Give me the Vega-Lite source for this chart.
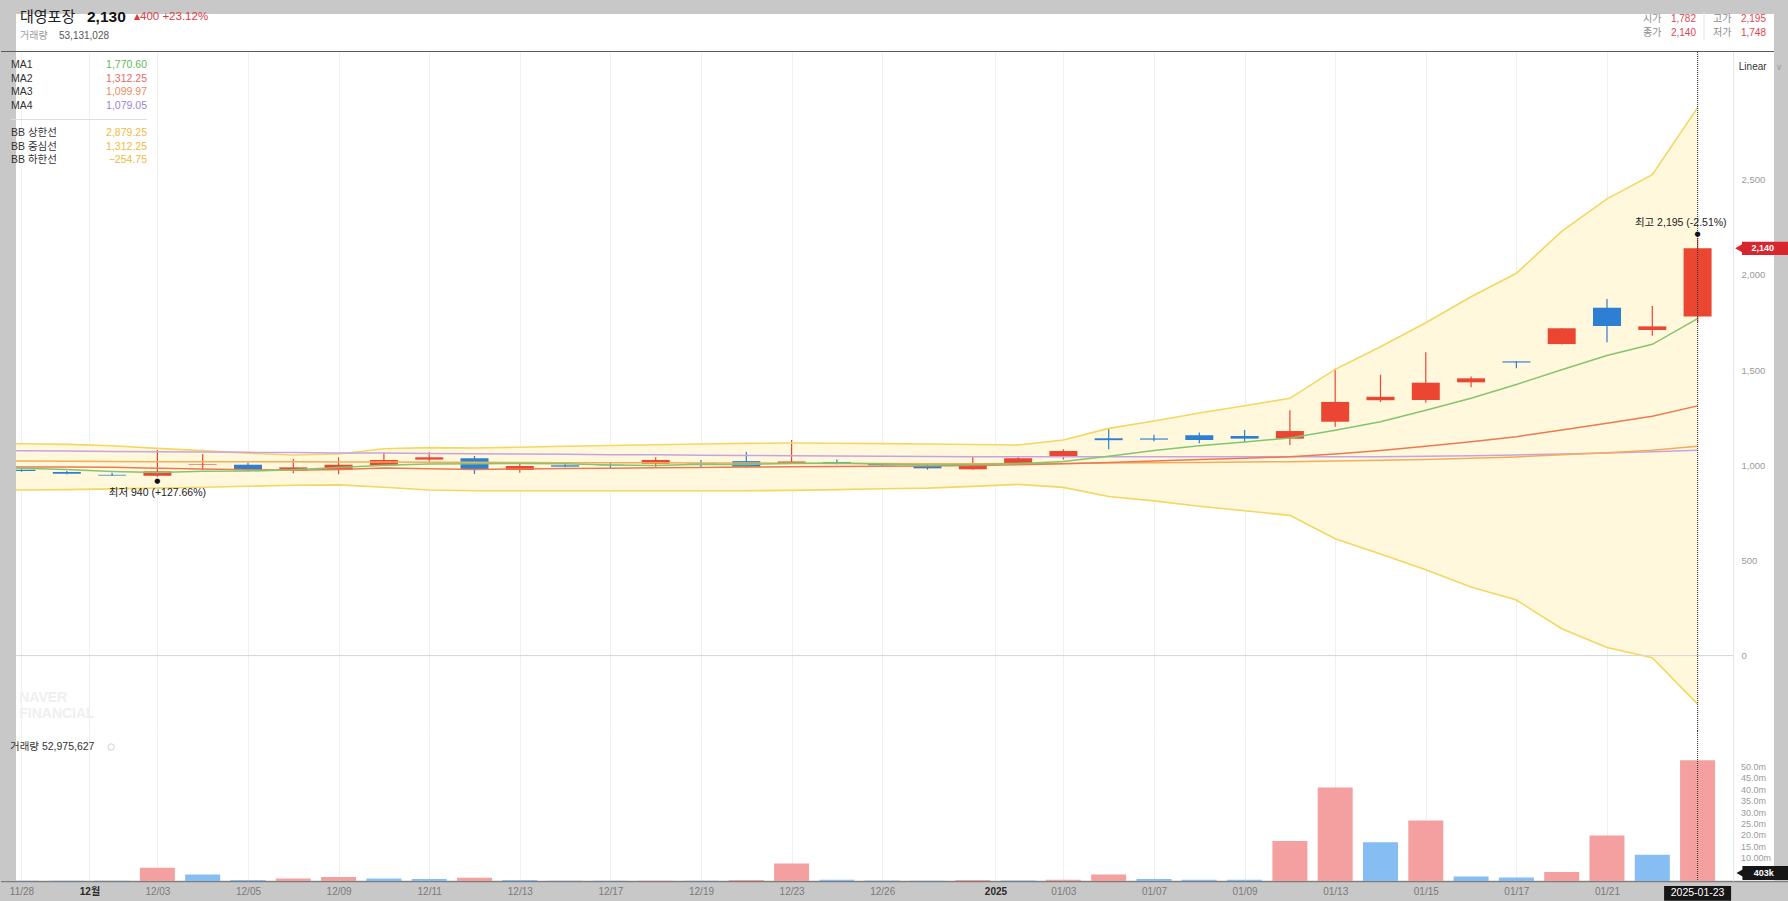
{
"$schema": "https://vega.github.io/schema/vega-lite/v6.json",
"background": "#c8c8c8",
"padding": 0,
"spacing": 0,
"bounds": "flush",
"config": {"view": {"stroke": null, "fill": "#ffffff"}, "font": "Liberation Sans, Noto Sans CJK KR", "axis": {"labelOverlap": false}},
"resolve": {"scale": {"x": "independent", "y": "independent", "color": "independent"}},
"datasets": {
"k": [
{"date":"11/28","i":0,"o":977,"h":979,"l":966,"c":970,"dir":"down","v":150000,"vdir":"down"},
{"date":"11/29","i":1,"o":965,"h":970,"l":953,"c":955,"dir":"down","v":150000,"vdir":"down"},
{"date":"12/02","i":2,"o":950,"h":961,"l":944,"c":946,"dir":"down","v":150000,"vdir":"down"},
{"date":"12/03","i":3,"o":945,"h":1080,"l":940,"c":968,"dir":"up","v":5800000,"vdir":"up"},
{"date":"12/04","i":4,"o":1003,"h":1059,"l":975,"c":1006,"dir":"up","v":2800000,"vdir":"down"},
{"date":"12/05","i":5,"o":1003,"h":1014,"l":972,"c":974,"dir":"down","v":400000,"vdir":"down"},
{"date":"12/06","i":6,"o":972,"h":1035,"l":958,"c":989,"dir":"up","v":1100000,"vdir":"up"},
{"date":"12/09","i":7,"o":975,"h":1042,"l":953,"c":1003,"dir":"up","v":1800000,"vdir":"up"},
{"date":"12/10","i":8,"o":1000,"h":1063,"l":998,"c":1028,"dir":"up","v":1100000,"vdir":"down"},
{"date":"12/11","i":9,"o":1030,"h":1070,"l":1019,"c":1042,"dir":"up","v":900000,"vdir":"down"},
{"date":"12/12","i":10,"o":1037,"h":1049,"l":954,"c":979,"dir":"down","v":1400000,"vdir":"up"},
{"date":"12/13","i":11,"o":975,"h":1010,"l":961,"c":996,"dir":"up","v":400000,"vdir":"down"},
{"date":"12/16","i":12,"o":1000,"h":1016,"l":990,"c":993,"dir":"down","v":120000,"vdir":"down"},
{"date":"12/17","i":13,"o":1003,"h":1012,"l":982,"c":1000,"dir":"down","v":100000,"vdir":"down"},
{"date":"12/18","i":14,"o":1008,"h":1042,"l":993,"c":1028,"dir":"up","v":150000,"vdir":"up"},
{"date":"12/19","i":15,"o":1012,"h":1028,"l":990,"c":1010,"dir":"down","v":120000,"vdir":"down"},
{"date":"12/20","i":16,"o":1022,"h":1070,"l":987,"c":992,"dir":"down","v":450000,"vdir":"up"},
{"date":"12/23","i":17,"o":1010,"h":1133,"l":1010,"c":1020,"dir":"up","v":7700000,"vdir":"up"},
{"date":"12/24","i":18,"o":1017,"h":1031,"l":1005,"c":1010,"dir":"down","v":600000,"vdir":"down"},
{"date":"12/26","i":19,"o":1008,"h":1010,"l":998,"c":1000,"dir":"down","v":200000,"vdir":"down"},
{"date":"12/27","i":20,"o":996,"h":1010,"l":977,"c":984,"dir":"down","v":150000,"vdir":"down"},
{"date":"12/30","i":21,"o":979,"h":1045,"l":977,"c":1007,"dir":"up","v":450000,"vdir":"up"},
{"date":"01/02","i":22,"o":1010,"h":1045,"l":1005,"c":1037,"dir":"up","v":200000,"vdir":"down"},
{"date":"01/03","i":23,"o":1045,"h":1084,"l":1031,"c":1075,"dir":"up","v":500000,"vdir":"up"},
{"date":"01/06","i":24,"o":1142,"h":1191,"l":1084,"c":1132,"dir":"down","v":2800000,"vdir":"up"},
{"date":"01/07","i":25,"o":1141,"h":1161,"l":1126,"c":1135,"dir":"down","v":900000,"vdir":"down"},
{"date":"01/08","i":26,"o":1158,"h":1173,"l":1116,"c":1133,"dir":"down","v":600000,"vdir":"down"},
{"date":"01/09","i":27,"o":1154,"h":1186,"l":1121,"c":1140,"dir":"down","v":500000,"vdir":"down"},
{"date":"01/10","i":28,"o":1140,"h":1289,"l":1107,"c":1180,"dir":"up","v":17500000,"vdir":"up"},
{"date":"01/13","i":29,"o":1229,"h":1508,"l":1203,"c":1333,"dir":"up","v":41000000,"vdir":"up"},
{"date":"01/14","i":30,"o":1342,"h":1476,"l":1333,"c":1360,"dir":"up","v":17000000,"vdir":"down"},
{"date":"01/15","i":31,"o":1343,"h":1594,"l":1329,"c":1434,"dir":"up","v":26500000,"vdir":"up"},
{"date":"01/16","i":32,"o":1436,"h":1466,"l":1410,"c":1457,"dir":"up","v":2000000,"vdir":"down"},
{"date":"01/17","i":33,"o":1546,"h":1548,"l":1510,"c":1540,"dir":"down","v":1500000,"vdir":"down"},
{"date":"01/20","i":34,"o":1637,"h":1722,"l":1635,"c":1720,"dir":"up","v":4000000,"vdir":"up"},
{"date":"01/21","i":35,"o":1828,"h":1874,"l":1646,"c":1732,"dir":"down","v":20000000,"vdir":"up"},
{"date":"01/22","i":36,"o":1711,"h":1837,"l":1681,"c":1730,"dir":"up","v":11500000,"vdir":"down"},
{"date":"01/23","i":37,"o":1782,"h":2195,"l":1748,"c":2140,"dir":"up","v":52975627,"vdir":"up"}
],
"ind": [
{"date":"11/27","i":-1,"ma1":990,"ma2":992,"ma3":1023,"ma4":1078,"up":1115,"lo":869},
{"date":"11/28","i":0,"ma1":985,"ma2":991.5,"ma3":1022,"ma4":1077,"up":1113,"lo":870},
{"date":"11/29","i":1,"ma1":978,"ma2":991,"ma3":1021,"ma4":1075,"up":1110,"lo":872},
{"date":"12/02","i":2,"ma1":968,"ma2":989.5,"ma3":1020,"ma4":1073,"up":1103,"lo":876},
{"date":"12/03","i":3,"ma1":962,"ma2":984.5,"ma3":1019,"ma4":1071,"up":1089,"lo":880},
{"date":"12/04","i":4,"ma1":969,"ma2":981,"ma3":1019,"ma4":1070,"up":1077,"lo":885},
{"date":"12/05","i":5,"ma1":969.8,"ma2":976.5,"ma3":1018,"ma4":1068,"up":1063,"lo":890},
{"date":"12/06","i":6,"ma1":976.6,"ma2":974.5,"ma3":1018,"ma4":1067,"up":1054,"lo":895},
{"date":"12/09","i":7,"ma1":988,"ma2":978,"ma3":1017,"ma4":1065,"up":1059,"lo":897},
{"date":"12/10","i":8,"ma1":1000,"ma2":986,"ma3":1017,"ma4":1064,"up":1087,"lo":885},
{"date":"12/11","i":9,"ma1":1007.2,"ma2":981.5,"ma3":1016,"ma4":1062,"up":1093,"lo":870},
{"date":"12/12","i":10,"ma1":1008.2,"ma2":978.5,"ma3":1016,"ma4":1061,"up":1091,"lo":866},
{"date":"12/13","i":11,"ma1":1009.6,"ma2":980.5,"ma3":1015,"ma4":1059,"up":1095,"lo":866},
{"date":"12/16","i":12,"ma1":1007.6,"ma2":983,"ma3":1014,"ma4":1058,"up":1100,"lo":866},
{"date":"12/17","i":13,"ma1":1002,"ma2":985,"ma3":1014,"ma4":1056,"up":1104,"lo":866},
{"date":"12/18","i":14,"ma1":999.2,"ma2":987,"ma3":1013,"ma4":1055,"up":1108,"lo":866},
{"date":"12/19","i":15,"ma1":1005.4,"ma2":989,"ma3":1012,"ma4":1053,"up":1112,"lo":866},
{"date":"12/20","i":16,"ma1":1004.6,"ma2":990.5,"ma3":1012,"ma4":1052,"up":1115,"lo":866},
{"date":"12/23","i":17,"ma1":1010,"ma2":992.5,"ma3":1011,"ma4":1050,"up":1117,"lo":868},
{"date":"12/24","i":18,"ma1":1012,"ma2":994,"ma3":1010,"ma4":1049,"up":1116,"lo":872},
{"date":"12/26","i":19,"ma1":1006.4,"ma2":995.5,"ma3":1009,"ma4":1047,"up":1114,"lo":877},
{"date":"12/27","i":20,"ma1":1001.2,"ma2":996.2,"ma3":1008,"ma4":1046,"up":1112,"lo":880},
{"date":"12/30","i":21,"ma1":1004.2,"ma2":998.8,"ma3":1008,"ma4":1045,"up":1109,"lo":889},
{"date":"01/02","i":22,"ma1":1007.6,"ma2":1003.3,"ma3":1009,"ma4":1045,"up":1107,"lo":900},
{"date":"01/03","i":23,"ma1":1020.6,"ma2":1008.7,"ma3":1010,"ma4":1045,"up":1133,"lo":884},
{"date":"01/06","i":24,"ma1":1047,"ma2":1015,"ma3":1012,"ma4":1045,"up":1194,"lo":836},
{"date":"01/07","i":25,"ma1":1077.2,"ma2":1023,"ma3":1013,"ma4":1045,"up":1233,"lo":813},
{"date":"01/08","i":26,"ma1":1102.4,"ma2":1030.2,"ma3":1015,"ma4":1045,"up":1275,"lo":785},
{"date":"01/09","i":27,"ma1":1123,"ma2":1037.1,"ma3":1017,"ma4":1045,"up":1313,"lo":761},
{"date":"01/10","i":28,"ma1":1144,"ma2":1044.7,"ma3":1019,"ma4":1045,"up":1352,"lo":737},
{"date":"01/13","i":29,"ma1":1184.2,"ma2":1059.2,"ma3":1022,"ma4":1045,"up":1504,"lo":614},
{"date":"01/14","i":30,"ma1":1229.2,"ma2":1078.3,"ma3":1026,"ma4":1045,"up":1623,"lo":534},
{"date":"01/15","i":31,"ma1":1289.4,"ma2":1100.2,"ma3":1031,"ma4":1047,"up":1749,"lo":451},
{"date":"01/16","i":32,"ma1":1352.8,"ma2":1123.4,"ma3":1037,"ma4":1050,"up":1886,"lo":361},
{"date":"01/17","i":33,"ma1":1424.8,"ma2":1150.4,"ma3":1044,"ma4":1054,"up":2009,"lo":292},
{"date":"01/20","i":34,"ma1":1502.2,"ma2":1185,"ma3":1055,"ma4":1059,"up":2229,"lo":141},
{"date":"01/21","i":35,"ma1":1576.6,"ma2":1221,"ma3":1066,"ma4":1065,"up":2400,"lo":42},
{"date":"01/22","i":36,"ma1":1635.8,"ma2":1258,"ma3":1079,"ma4":1071,"up":2527,"lo":-11},
{"date":"01/23","i":37,"ma1":1770.6,"ma2":1312.25,"ma3":1099.97,"ma4":1079.05,"up":2879.25,"lo":-254.75}
],
"legend": [
{"series":"MA1","val":1770.6},
{"series":"MA2","val":1312.25},
{"series":"MA3","val":1099.97},
{"series":"MA4","val":1079.05},
{"series":"BB 상한선","val":2879.25},
{"series":"BB 중심선","val":1312.25},
{"series":"BB 하한선","val":-254.75}
],
"ext": [
{"i":3,"v":940,"label":"최저 940 (+127.66%)","kind":"min"},
{"i":37,"v":2195,"label":"최고 2,195 (-2.51%)","kind":"max"}
],
"vticks": [
{"t":10000000,"label":"10.00m"},
{"t":15000000,"label":"15.0m"},
{"t":20000000,"label":"20.0m"},
{"t":25000000,"label":"25.0m"},
{"t":30000000,"label":"30.0m"},
{"t":35000000,"label":"35.0m"},
{"t":40000000,"label":"40.0m"},
{"t":45000000,"label":"45.0m"},
{"t":50000000,"label":"50.0m"}
],
"info": [
{"name":"대영포장","price":2130,"chg":"400 +23.12%","vol":53131028,"open":1782,"high":2195,"close":2140,"low":1748}
]
},
"vconcat": [
{
"width": 1788, "height": 52,
"data": {"name": "info"},
"layer": [
{"mark": {"type": "rect", "color": "#c8c8c8"}, "encoding": {"x": {"datum": 0, "type": "quantitative", "scale": {"domain": [0, 1788], "nice": false, "zero": false, "padding": 0}, "axis": null}, "x2": {"datum": 1788}, "y": {"datum": 0, "type": "quantitative", "scale": {"domain": [0, 52], "nice": false, "zero": false, "reverse": true, "padding": 0}, "axis": null}, "y2": {"datum": 14}}},
{"mark": {"type": "rect", "color": "#c8c8c8"}, "encoding": {"x": {"datum": 0, "type": "quantitative", "axis": null}, "x2": {"datum": 15}, "y": {"datum": 0, "type": "quantitative", "axis": null}, "y2": {"datum": 52}}},
{"mark": {"type": "rect", "color": "#c8c8c8"}, "encoding": {"x": {"datum": 1773, "type": "quantitative", "axis": null}, "x2": {"datum": 1788}, "y": {"datum": 0, "type": "quantitative", "axis": null}, "y2": {"datum": 52}}},
{"mark": {"type": "rule", "color": "#5a5a5a", "strokeWidth": 1}, "encoding": {"x": {"datum": 0, "type": "quantitative", "axis": null}, "x2": {"datum": 1773}, "y": {"datum": 51.5, "type": "quantitative", "axis": null}}},
{"mark": {"type": "rule", "color": "#e4e4e4", "strokeWidth": 1}, "encoding": {"x": {"datum": 1703, "type": "quantitative", "axis": null}, "y": {"datum": 12, "type": "quantitative", "axis": null}, "y2": {"datum": 40}}},
{"mark": {"type": "text", "align": "left", "baseline": "middle", "fontSize": 15, "color": "#222222", "font": "Noto Sans CJK KR"}, "encoding": {"x": {"datum": 19, "type": "quantitative", "axis": null}, "y": {"datum": 17, "type": "quantitative", "axis": null}, "text": {"field": "name"}}},
{"mark": {"type": "text", "align": "left", "baseline": "middle", "fontSize": 15.5, "fontWeight": "bold", "color": "#111111"}, "encoding": {"x": {"datum": 86, "type": "quantitative", "axis": null}, "y": {"datum": 16.5, "type": "quantitative", "axis": null}, "text": {"field": "price", "type": "quantitative", "format": ","}}},
{"mark": {"type": "text", "align": "left", "baseline": "middle", "fontSize": 8, "color": "#e0393e", "font": "DejaVu Sans"}, "encoding": {"x": {"datum": 133, "type": "quantitative", "axis": null}, "y": {"datum": 16.5, "type": "quantitative", "axis": null}, "text": {"value": "▲"}}},
{"mark": {"type": "text", "align": "left", "baseline": "middle", "fontSize": 11.5, "color": "#e0393e"}, "encoding": {"x": {"datum": 139, "type": "quantitative", "axis": null}, "y": {"datum": 16.5, "type": "quantitative", "axis": null}, "text": {"field": "chg"}}},
{"mark": {"type": "text", "align": "left", "baseline": "middle", "fontSize": 10, "color": "#9a9a9a"}, "encoding": {"x": {"datum": 19, "type": "quantitative", "axis": null}, "y": {"datum": 36, "type": "quantitative", "axis": null}, "text": {"value": "거래량"}}},
{"mark": {"type": "text", "align": "left", "baseline": "middle", "fontSize": 10, "color": "#555555"}, "encoding": {"x": {"datum": 58, "type": "quantitative", "axis": null}, "y": {"datum": 36, "type": "quantitative", "axis": null}, "text": {"field": "vol", "type": "quantitative", "format": ","}}},
{"mark": {"type": "text", "align": "left", "baseline": "middle", "fontSize": 10, "color": "#8c8c8c"}, "encoding": {"x": {"datum": 1642, "type": "quantitative", "axis": null}, "y": {"datum": 19.3, "type": "quantitative", "axis": null}, "text": {"value": "시가"}}},
{"mark": {"type": "text", "align": "right", "baseline": "middle", "fontSize": 10, "color": "#e0464b"}, "encoding": {"x": {"datum": 1695, "type": "quantitative", "axis": null}, "y": {"datum": 19.3, "type": "quantitative", "axis": null}, "text": {"field": "open", "type": "quantitative", "format": ","}}},
{"mark": {"type": "text", "align": "left", "baseline": "middle", "fontSize": 10, "color": "#8c8c8c"}, "encoding": {"x": {"datum": 1712, "type": "quantitative", "axis": null}, "y": {"datum": 19.3, "type": "quantitative", "axis": null}, "text": {"value": "고가"}}},
{"mark": {"type": "text", "align": "right", "baseline": "middle", "fontSize": 10, "color": "#e0464b"}, "encoding": {"x": {"datum": 1765, "type": "quantitative", "axis": null}, "y": {"datum": 19.3, "type": "quantitative", "axis": null}, "text": {"field": "high", "type": "quantitative", "format": ","}}},
{"mark": {"type": "text", "align": "left", "baseline": "middle", "fontSize": 10, "color": "#8c8c8c"}, "encoding": {"x": {"datum": 1642, "type": "quantitative", "axis": null}, "y": {"datum": 33.3, "type": "quantitative", "axis": null}, "text": {"value": "종가"}}},
{"mark": {"type": "text", "align": "right", "baseline": "middle", "fontSize": 10, "color": "#e0464b"}, "encoding": {"x": {"datum": 1695, "type": "quantitative", "axis": null}, "y": {"datum": 33.3, "type": "quantitative", "axis": null}, "text": {"field": "close", "type": "quantitative", "format": ","}}},
{"mark": {"type": "text", "align": "left", "baseline": "middle", "fontSize": 10, "color": "#8c8c8c"}, "encoding": {"x": {"datum": 1712, "type": "quantitative", "axis": null}, "y": {"datum": 33.3, "type": "quantitative", "axis": null}, "text": {"value": "저가"}}},
{"mark": {"type": "text", "align": "right", "baseline": "middle", "fontSize": 10, "color": "#e0464b"}, "encoding": {"x": {"datum": 1765, "type": "quantitative", "axis": null}, "y": {"datum": 33.3, "type": "quantitative", "axis": null}, "text": {"field": "low", "type": "quantitative", "format": ","}}}
]
},
{
"width": 1788, "height": 679,
"layer": [
{"layer": [
{"data": {"name": "ind"}, "mark": {"type": "area", "color": "#fff8dc", "clip": true}, "encoding": {
 "x": {"field": "i", "type": "quantitative", "scale": {"domain": [-0.4525, 39.018], "nice": false, "zero": false, "padding": 0}, "axis": {"values": [0,1.5,3,5,7,9,11,13,15,17,19,21.5,23,25,27,29,31,33,35,37], "grid": true, "gridColor": "#f0f0f0", "labels": false, "ticks": false, "domain": true, "domainColor": "#cfcfcf", "title": null}},
 "y": {"field": "up", "type": "quantitative", "scale": {"domain": [-396.2, 3171.8], "nice": false, "zero": false, "padding": 0}, "axis": {"orient": "right", "offset": -56, "values": [0,500,1000,1500,2000,2500], "labelExpr": "format(datum.value, ',')", "grid": false, "ticks": false, "tickSize": 0, "labelPadding": 8, "labelAlign": "left", "labelColor": "#9a9a9a", "labelFontSize": 9.5, "labelOverlap": false, "domain": true, "domainColor": "#e4e4e4", "title": null}},
 "y2": {"field": "lo"}}},
{"data": {"name": "k"}, "mark": {"type": "rule", "strokeWidth": 1.2}, "encoding": {"x": {"field": "i", "type": "quantitative"}, "y": {"field": "l", "type": "quantitative"}, "y2": {"field": "h"}, "color": {"field": "dir", "type": "nominal", "scale": {"domain": ["up", "down"], "range": ["#eb4632", "#2d7fd4"]}, "legend": null}}},
{"data": {"name": "k"}, "mark": {"type": "bar", "size": 28}, "encoding": {"x": {"field": "i", "type": "quantitative"}, "y": {"field": "o", "type": "quantitative"}, "y2": {"field": "c"}, "color": {"field": "dir", "type": "nominal", "legend": null}}},
{"data": {"name": "ind"}, "mark": {"type": "line", "color": "#f5d660", "strokeWidth": 1.6, "clip": true}, "encoding": {"x": {"field": "i", "type": "quantitative"}, "y": {"field": "up", "type": "quantitative"}}},
{"data": {"name": "ind"}, "mark": {"type": "line", "color": "#f5d660", "strokeWidth": 1.6, "clip": true}, "encoding": {"x": {"field": "i", "type": "quantitative"}, "y": {"field": "lo", "type": "quantitative"}}},
{"data": {"name": "ind"}, "mark": {"type": "line", "color": "#c7a3e4", "strokeWidth": 1.5, "clip": true}, "encoding": {"x": {"field": "i", "type": "quantitative"}, "y": {"field": "ma4", "type": "quantitative"}}},
{"data": {"name": "ind"}, "mark": {"type": "line", "color": "#f3ac5c", "strokeWidth": 1.5, "clip": true}, "encoding": {"x": {"field": "i", "type": "quantitative"}, "y": {"field": "ma3", "type": "quantitative"}}},
{"data": {"name": "ind"}, "mark": {"type": "line", "color": "#eb7a52", "strokeWidth": 1.5, "clip": true}, "encoding": {"x": {"field": "i", "type": "quantitative"}, "y": {"field": "ma2", "type": "quantitative"}}},
{"data": {"name": "ind"}, "mark": {"type": "line", "color": "#82c66f", "strokeWidth": 1.5, "clip": true}, "encoding": {"x": {"field": "i", "type": "quantitative"}, "y": {"field": "ma1", "type": "quantitative"}}},
{"data": {"name": "ext"}, "transform": [{"filter": "datum.kind == 'max'"}], "mark": {"type": "rule", "color": "#d4d4d4", "strokeWidth": 1}, "encoding": {"x": {"datum": -0.1214}, "x2": {"datum": 37.78}, "y": {"datum": 0}}},
{"data": {"name": "ext"}, "transform": [{"filter": "datum.kind == 'max'"}], "mark": {"type": "rule", "color": "#333333", "strokeWidth": 1, "strokeDash": [1, 1]}, "encoding": {"x": {"datum": 37}}},
{"data": {"name": "ext"}, "transform": [{"filter": "datum.kind == 'min'"}], "mark": {"type": "text", "fontSize": 7, "color": "#111111", "dy": 4, "font": "DejaVu Sans", "baseline": "middle"}, "encoding": {"x": {"field": "i", "type": "quantitative"}, "y": {"field": "v", "type": "quantitative"}, "text": {"value": "●"}}},
{"data": {"name": "ext"}, "transform": [{"filter": "datum.kind == 'min'"}], "mark": {"type": "text", "fontSize": 10.5, "color": "#222222", "dy": 16, "baseline": "middle", "align": "center"}, "encoding": {"x": {"field": "i", "type": "quantitative"}, "y": {"field": "v", "type": "quantitative"}, "text": {"field": "label"}}},
{"data": {"name": "ext"}, "transform": [{"filter": "datum.kind == 'max'"}], "mark": {"type": "text", "fontSize": 7, "color": "#111111", "dy": -4, "font": "DejaVu Sans", "baseline": "middle"}, "encoding": {"x": {"field": "i", "type": "quantitative"}, "y": {"field": "v", "type": "quantitative"}, "text": {"value": "●"}}},
{"data": {"name": "ext"}, "transform": [{"filter": "datum.kind == 'max'"}], "mark": {"type": "text", "fontSize": 10.5, "color": "#222222", "dy": -15, "dx": 29, "baseline": "middle", "align": "right"}, "encoding": {"x": {"field": "i", "type": "quantitative"}, "y": {"field": "v", "type": "quantitative"}, "text": {"field": "label"}}},
{"data": {"name": "ext"}, "transform": [{"filter": "datum.kind == 'max'"}], "mark": {"type": "text", "fontSize": 14, "fontWeight": "bold", "color": "#efefef", "align": "left", "baseline": "middle"}, "encoding": {"x": {"datum": -0.05}, "y": {"datum": -223}, "text": {"value": "NAVER"}}},
{"data": {"name": "ext"}, "transform": [{"filter": "datum.kind == 'max'"}], "mark": {"type": "text", "fontSize": 14, "fontWeight": "bold", "color": "#efefef", "align": "left", "baseline": "middle"}, "encoding": {"x": {"datum": -0.05}, "y": {"datum": -307}, "text": {"value": "FINANCIAL"}}},
{"data": {"name": "ext"}, "transform": [{"filter": "datum.kind == 'max'"}], "mark": {"type": "rect", "color": "#c8c8c8"}, "encoding": {"x": {"datum": -0.4525}, "x2": {"datum": -0.1214}, "y": {"datum": -396.2}, "y2": {"datum": 3171.8}}},
{"data": {"name": "ext"}, "transform": [{"filter": "datum.kind == 'max'"}], "mark": {"type": "rect", "color": "#c8c8c8"}, "encoding": {"x": {"datum": 38.687}, "x2": {"datum": 39.018}, "y": {"datum": -396.2}, "y2": {"datum": 3171.8}}},
{"data": {"name": "k"}, "transform": [{"filter": "datum.i == 37"}], "mark": {"type": "rect", "color": "#d8262e"}, "encoding": {"x": {"datum": 37.98}, "x2": {"datum": 39.018}, "y": {"datum": 2105}, "y2": {"datum": 2175}}},
{"data": {"name": "k"}, "transform": [{"filter": "datum.i == 37"}], "mark": {"type": "point", "shape": "triangle-left", "filled": true, "size": 110, "color": "#d8262e", "opacity": 1}, "encoding": {"x": {"datum": 37.93}, "y": {"field": "c", "type": "quantitative"}}},
{"data": {"name": "k"}, "transform": [{"filter": "datum.i == 37"}], "mark": {"type": "text", "fontSize": 9, "fontWeight": "bold", "color": "#ffffff", "align": "center", "baseline": "middle"}, "encoding": {"x": {"datum": 38.44}, "y": {"field": "c", "type": "quantitative"}, "text": {"field": "c", "type": "quantitative", "format": ","}}},
{"data": {"name": "ext"}, "transform": [{"filter": "datum.kind == 'max'"}], "mark": {"type": "text", "fontSize": 10, "color": "#333333", "align": "left", "baseline": "middle"}, "encoding": {"x": {"datum": 37.91}, "y": {"datum": 3093}, "text": {"value": "Linear"}}},
{"data": {"name": "ext"}, "transform": [{"filter": "datum.kind == 'max'"}], "mark": {"type": "text", "fontSize": 9, "color": "#a0a0a0", "align": "center", "baseline": "middle", "font": "DejaVu Sans"}, "encoding": {"x": {"datum": 38.8}, "y": {"datum": 3093}, "text": {"value": "∨"}}}
]},
{"data": {"name": "legend"}, "layer": [
{"mark": {"type": "text", "align": "left", "baseline": "middle", "fontSize": 10.5, "color": "#333333"}, "encoding": {"x": {"datum": -0.2318}, "y": {"field": "series", "type": "ordinal", "scale": {"type": "point", "domain": ["MA1", "MA2", "MA3", "MA4", "sep", "BB 상한선", "BB 중심선", "BB 하한선"], "range": [13, 108.4], "padding": 0}, "axis": null}, "text": {"field": "series"}}},
{"mark": {"type": "text", "align": "right", "baseline": "middle", "fontSize": 10.5}, "encoding": {"x": {"datum": 2.77}, "y": {"field": "series", "type": "ordinal", "axis": null}, "text": {"field": "val", "type": "quantitative", "format": ",.2f"}, "color": {"field": "series", "type": "nominal", "scale": {"domain": ["MA1", "MA2", "MA3", "MA4", "BB 상한선", "BB 중심선", "BB 하한선"], "range": ["#5fb85a", "#e86a66", "#ee8c5e", "#9b82d6", "#f4b942", "#f4b942", "#f4b942"]}, "legend": null}}},
{"mark": {"type": "rule", "color": "#dddddd", "strokeWidth": 1}, "transform": [{"filter": "datum.series == 'MA1'"}], "encoding": {"x": {"datum": -0.2318}, "x2": {"datum": 2.77}, "y": {"datum": "sep", "type": "ordinal", "axis": null}}}
]}
],
"resolve": {"scale": {"y": "independent", "color": "independent"}}
},
{
"width": 1788, "height": 150,
"layer": [
{"data": {"name": "k"}, "mark": {"type": "bar", "size": 35}, "encoding": {
 "x": {"field": "i", "type": "quantitative", "scale": {"domain": [-0.4525, 39.018], "nice": false, "zero": false, "padding": 0}, "axis": {"values": [0,1.5,3,5,7,9,11,13,15,17,19,21.5,23,25,27,29,31,33,35], "labelExpr": "datum.value == 1.5 ? '12월' : datum.value == 21.5 ? '2025' : ['11/28','11/29','12/02','12/03','12/04','12/05','12/06','12/09','12/10','12/11','12/12','12/13','12/16','12/17','12/18','12/19','12/20','12/23','12/24','12/26','12/27','12/30','01/02','01/03','01/06','01/07','01/08','01/09','01/10','01/13','01/14','01/15','01/16','01/17','01/20','01/21','01/22','01/23'][datum.value]", "grid": true, "gridColor": "#f0f0f0", "ticks": false, "tickSize": 0, "domain": true, "domainColor": "#333333", "domainDash": [1, 1], "domainWidth": 1.5, "labelPadding": 5, "labelFontSize": 10, "labelColor": {"condition": {"test": "datum.value == 1.5 || datum.value == 21.5", "value": "#2a2a2a"}, "value": "#7a7a7a"}, "labelFontWeight": {"condition": {"test": "datum.value == 1.5 || datum.value == 21.5", "value": "bold"}, "value": "normal"}, "labelOverlap": false, "labelBound": false, "labelFlush": false, "minExtent": 20, "maxExtent": 20, "title": null}},
 "y": {"field": "v", "type": "quantitative", "scale": {"domain": [0, 65800000], "nice": false, "zero": false, "padding": 0}, "axis": {"orient": "right", "offset": -56, "values": [0], "labels": false, "grid": false, "ticks": false, "tickSize": 0, "domain": true, "domainColor": "#e4e4e4", "title": null}},
 "color": {"field": "vdir", "type": "nominal", "scale": {"domain": ["up", "down"], "range": ["#f4a0a0", "#86bdf2"]}, "legend": null}}},
{"data": {"name": "vticks"}, "mark": {"type": "text", "align": "left", "baseline": "middle", "fontSize": 9, "color": "#9a9a9a"}, "encoding": {"x": {"datum": 37.958}, "y": {"field": "t", "type": "quantitative"}, "text": {"field": "label"}}},
{"data": {"name": "ext"}, "transform": [{"filter": "datum.kind == 'max'"}], "mark": {"type": "rule", "color": "#333333", "strokeWidth": 1, "strokeDash": [1, 1]}, "encoding": {"x": {"datum": 37}}},
{"data": {"name": "ext"}, "transform": [{"filter": "datum.kind == 'max'"}], "mark": {"type": "rect", "color": "#c8c8c8"}, "encoding": {"x": {"datum": -0.4525}, "x2": {"datum": -0.1214}, "y": {"datum": 0}, "y2": {"datum": 65800000}}},
{"data": {"name": "ext"}, "transform": [{"filter": "datum.kind == 'max'"}], "mark": {"type": "rect", "color": "#c8c8c8"}, "encoding": {"x": {"datum": 38.687}, "x2": {"datum": 39.018}, "y": {"datum": 0}, "y2": {"datum": 65800000}}},
{"data": {"name": "k"}, "transform": [{"filter": "datum.i == 37"}], "mark": {"type": "text", "align": "left", "baseline": "middle", "fontSize": 10.5, "color": "#333333"}, "encoding": {"x": {"datum": -0.254}, "y": {"datum": 58800000}, "text": {"value": "거래량 52,975,627"}}},
{"data": {"name": "k"}, "transform": [{"filter": "datum.i == 37"}], "mark": {"type": "point", "shape": "circle", "size": 40, "color": "#c0c0c0", "filled": false, "strokeWidth": 1}, "encoding": {"x": {"datum": 1.98}, "y": {"datum": 58800000}}},
{"data": {"name": "k"}, "transform": [{"filter": "datum.i == 37"}], "mark": {"type": "rect", "color": "#161616"}, "encoding": {"x": {"datum": 37.99}, "x2": {"datum": 39.018}, "y": {"datum": 440000}, "y2": {"datum": 6580000}}},
{"data": {"name": "k"}, "transform": [{"filter": "datum.i == 37"}], "mark": {"type": "point", "shape": "triangle-left", "filled": true, "size": 90, "color": "#161616", "opacity": 1}, "encoding": {"x": {"datum": 37.95}, "y": {"datum": 3510000}}},
{"data": {"name": "k"}, "transform": [{"filter": "datum.i == 37"}], "mark": {"type": "text", "fontSize": 9, "fontWeight": "bold", "color": "#ffffff", "align": "center", "baseline": "middle"}, "encoding": {"x": {"datum": 38.46}, "y": {"datum": 3510000}, "text": {"value": "403k"}}},
{"data": {"name": "k"}, "transform": [{"filter": "datum.i == 37"}], "mark": {"type": "bar", "size": 67, "color": "#161616"}, "encoding": {"x": {"field": "i", "type": "quantitative"}, "y": {"datum": -2190000}, "y2": {"datum": -8700000}}},
{"data": {"name": "k"}, "transform": [{"filter": "datum.i == 37"}], "mark": {"type": "text", "fontSize": 10.5, "color": "#ffffff", "align": "center", "baseline": "middle"}, "encoding": {"x": {"field": "i", "type": "quantitative"}, "y": {"datum": -5450000}, "text": {"value": "2025-01-23"}}}
]
}
]
}
